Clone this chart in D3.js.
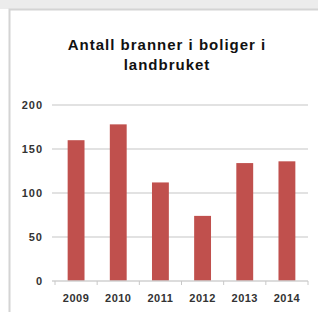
<!DOCTYPE html>
<html lang="no">
<head>
<meta charset="UTF-8">
<script src="https://cdn.jsdelivr.net/npm/d3@7"></script>
<style>
	body { margin: 0; background: #fff; font-family: "Liberation Sans", Arial, sans-serif; }
	svg { display: block; }
</style>
</head>
<body>
<script>
	// data
	const years = ["2009", "2010", "2011", "2012", "2013", "2014"];
	const fires = [160, 178, 112, 74, 134, 136];
	const yTicks = [0, 50, 100, 150, 200];
	const titleLines = ["Antall branner i boliger i", "landbruket"];

	const W = 318, H = 312;
	const plot = { left: 55, right: 308, top: 105, bottom: 281 };

	const svg = d3.select("body").append("svg")
		.attr("width", W)
		.attr("height", H);

	// grey strip at top + frame
	svg.append("rect").attr("x", 0).attr("y", 0).attr("width", W).attr("height", 9).attr("fill", "#ececec");
	svg.append("rect").attr("x", 9.5).attr("y", 9.5).attr("width", W).attr("height", H)
		.attr("fill", "#fff").attr("stroke", "#d4d4d4").attr("stroke-width", 2);

	const x = d3.scaleBand().domain(years).range([plot.left, plot.right]).paddingInner(0.6).paddingOuter(0.3);
	const y = d3.scaleLinear().domain([0, 200]).range([plot.bottom, plot.top]);

	// gridlines
	svg.append("g").selectAll("line")
		.data(yTicks.filter(d => d > 0))
		.join("line")
		.attr("x1", plot.left - 3).attr("x2", plot.right)
		.attr("y1", d => y(d)).attr("y2", d => y(d))
		.attr("stroke", "#d9d9d9").attr("stroke-width", 1.5);

	// bars
	svg.append("g").selectAll("rect")
		.data(fires)
		.join("rect")
		.attr("x", (d, i) => x(years[i]))
		.attr("y", d => y(d))
		.attr("width", x.bandwidth())
		.attr("height", d => y(0) - y(d))
		.attr("fill", "#c0504d");

	// x axis
	const xAxis = svg.append("g")
		.attr("transform", `translate(0,${plot.bottom})`)
		.call(d3.axisBottom(x).tickSize(0).tickPadding(13));
	xAxis.select(".domain").attr("stroke", "#d0d0d0").attr("stroke-width", 1.5)
		.attr("d", `M${plot.left - 3},0H${plot.right}`);
	xAxis.selectAll(".cat-tick")
		.data(d3.range(years.length + 1))
		.join("line")
		.attr("x1", i => plot.left + i * (plot.right - plot.left) / years.length)
		.attr("x2", i => plot.left + i * (plot.right - plot.left) / years.length)
		.attr("y1", 0).attr("y2", 4)
		.attr("stroke", "#c8c8c8");
	xAxis.selectAll("text")
		.attr("font-size", 11).attr("font-weight", "bold").attr("fill", "#333")
		.attr("letter-spacing", 0.5);

	// y axis labels
	const yAxis = svg.append("g")
		.attr("transform", `translate(${plot.left - 12},0)`)
		.call(d3.axisLeft(y).tickValues(yTicks).tickSize(0).tickPadding(0));
	yAxis.select(".domain").remove();
	yAxis.selectAll("text")
		.attr("font-size", 11).attr("font-weight", "bold").attr("fill", "#333")
		.attr("letter-spacing", 1);

	// title
	svg.append("text")
		.attr("x", 167).attr("y", 50)
		.attr("text-anchor", "middle")
		.attr("font-size", 15).attr("font-weight", "bold").attr("fill", "#111")
		.attr("letter-spacing", 1)
		.selectAll("tspan")
		.data(titleLines)
		.join("tspan")
		.attr("x", 167)
		.attr("dy", (d, i) => i === 0 ? 0 : 20)
		.text(d => d);
</script>
</body>
</html>
